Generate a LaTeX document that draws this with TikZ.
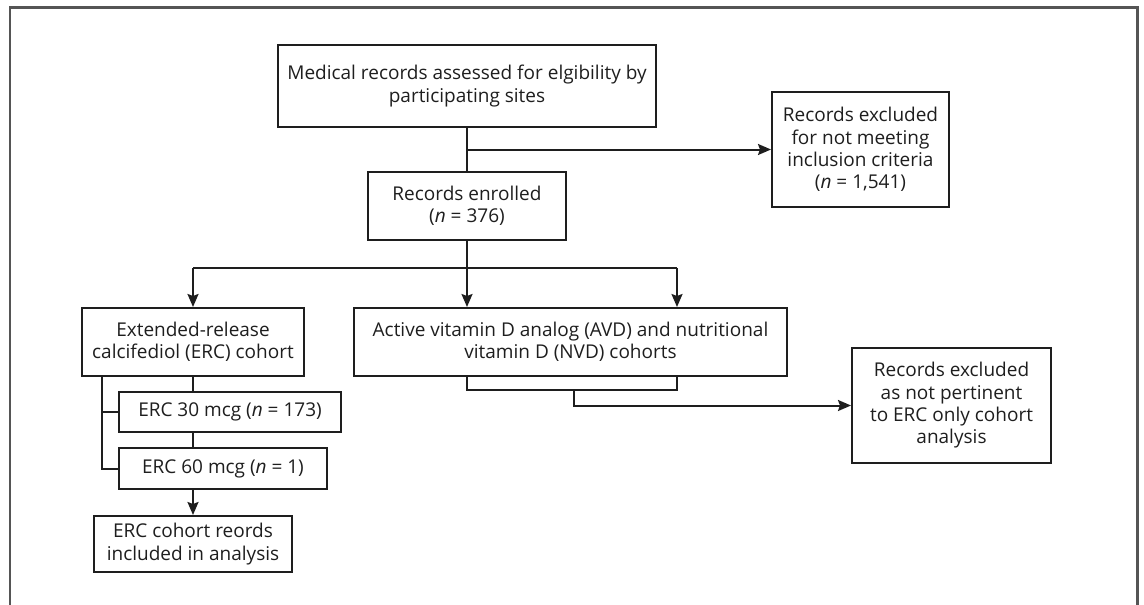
\documentclass[tikz,border=0pt]{standalone}
\usepackage{fontspec}
\setmainfont{Open Sans}
\usetikzlibrary{arrows.meta}
\definecolor{ln}{HTML}{1E1E1E}
\definecolor{frm}{HTML}{555555}
\tikzset{
  box/.style={draw=ln, line width=2pt, rectangle, align=center, inner sep=0pt,
    font=\fontsize{19}{22.3}\selectfont, text=ln},
  conn/.style={draw=ln, line width=2pt},
  arr/.style={conn, -{Stealth[length=13pt,width=11pt,inset=2pt]}},
}
\begin{document}
\begin{tikzpicture}[x=1pt,y=-1pt]
\useasboundingbox (0,0) rectangle (1144,605);
\draw[frm, line width=2.2pt] (10,606) -- (10,7.5) -- (1137.5,7.5) -- (1137.5,606);

\node[box, minimum width=378pt, minimum height=82pt] (top) at (467,86) {Medical records assessed for elgibility by\\participating sites};
\node[box, minimum width=198pt, minimum height=68pt] (enr) at (467,206) {Records enrolled\\(\textit{n} = 376)};
\node[box, minimum width=177pt, minimum height=115pt] (ex1) at (860.5,149.5) {Records excluded\\for not meeting\\inclusion criteria\\(\textit{n} = 1,541)};
\node[box, minimum width=222pt, minimum height=68pt] (erc) at (193,342) {Extended-release\\calcifediol (ERC) cohort};
\node[box, minimum width=433pt, minimum height=68pt] (avd) at (570.5,342) {Active vitamin D analog (AVD) and nutritional\\vitamin D (NVD) cohorts};
\node[box, minimum width=222pt, minimum height=40pt] (e30) at (230,412) {ERC 30 mcg (\textit{n} = 173)};
\node[box, minimum width=208pt, minimum height=41pt] (e60) at (223,468.5) {ERC 60 mcg (\textit{n} = 1)};
\node[box, minimum width=198pt, minimum height=56pt] (fin) at (193,544) {ERC cohort reords\\included in analysis};
\node[box, minimum width=199pt, minimum height=115pt] (ex2) at (951.5,405.5) {Records excluded\\as not pertinent\\to ERC only cohort\\analysis};

% top to enrolled and exclusion
\draw[conn] (top.south -| enr.north) -- (enr.north);
\coordinate (j1) at (enr.north |- ex1.west);
\draw[arr] (j1) -- (ex1.west);

% enrolled branching
\coordinate (j2) at (enr.south |- 0,268);
\coordinate (bl) at (erc.north |- j2);
\coordinate (br) at (677,268);
\draw[conn] (enr.south) -- (j2);
\draw[conn] (bl) -- (br);
\draw[arr] (bl) -- (erc.north);
\draw[arr] (j2) -- (enr.south |- avd.north);
\draw[arr] (br) -- (br |- avd.north);

% AVD to exclusion 2
\coordinate (a1) at (enr.south |- 0,390);
\coordinate (a2) at (br |- a1);
\draw[conn] (enr.south |- avd.south) -- (a1) -- (a2) -- (br |- avd.south);
\coordinate (a3) at (574,390);
\draw[arr] (a3) -- (a3 |- ex2.west) -- (ex2.west);

% ERC chain
\draw[conn] (erc.south) -- (erc.south |- e30.north);
\draw[conn] (erc.south |- e30.south) -- (erc.south |- e60.north);
\draw[arr] (erc.south |- e60.south) -- (fin.north);
\coordinate (k0) at (102,376);
\draw[conn] (k0) -- (k0 |- e60.west) -- (e60.west);
\draw[conn] (k0 |- e30.west) -- (e30.west);
\end{tikzpicture}
\end{document}
